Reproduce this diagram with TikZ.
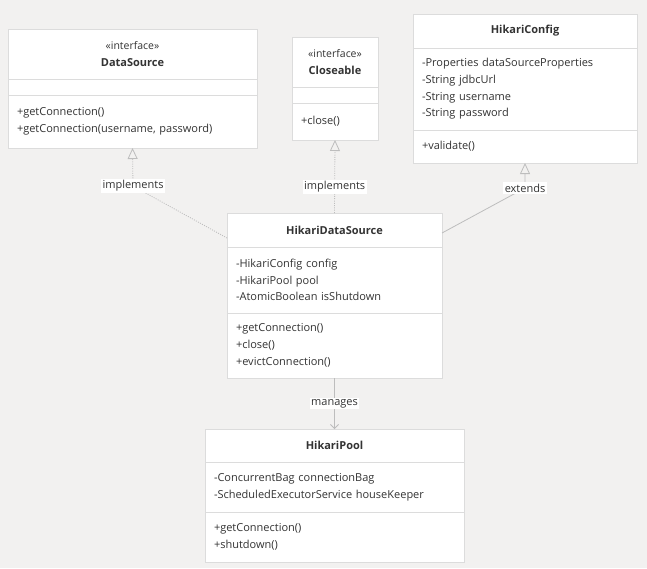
\documentclass[tikz,border=0pt]{standalone}
\usepackage{fontspec}
\setmainfont{Open Sans}
\usepackage{xcolor}
\usepackage{tikz}
\usetikzlibrary{positioning,arrows.meta}
\definecolor{CanvasBg}{HTML}{F2F1F0}
\definecolor{BoxLine}{HTML}{DCDCDC}
\definecolor{LinkGray}{HTML}{BDBDBD}
\definecolor{TextDark}{HTML}{333333}
\tikzset{
  umlpart/.style={draw=BoxLine, fill=white, line width=0.9pt, outer sep=0pt,
    inner xsep=9pt, inner ysep=0pt, align=left, text=TextDark,
    font=\fontsize{11}{16.7}\selectfont},
  umlhead/.style={umlpart, align=center},
  connlabel/.style={fill=white, inner sep=1.5pt, text=TextDark,
    font=\fontsize{11}{13}\selectfont},
  realize/.style={draw=LinkGray, line width=0.8pt, dash pattern=on 1pt off 1.3pt,
    -{Triangle[open, length=11pt, width=10pt]}},
  inherit/.style={draw=LinkGray, line width=0.8pt,
    -{Triangle[open, length=11pt, width=10pt]}},
  assoc/.style={draw=LinkGray, line width=0.8pt,
    -{Straight Barb[length=4pt, width=8pt]}}
}
\newcommand{\stereo}[1]{{\fontsize{10.5}{16}\selectfont«#1»}}
\begin{document}
\begin{tikzpicture}[x=1pt, y=-1pt]
  \fill[CanvasBg] (0,0) rectangle (647,568);
  \useasboundingbox (0,0) rectangle (647,568);

  \node[umlhead, text width=231pt, minimum height=50pt, anchor=north west] (dshead) at (8,29)
    {\stereo{interface}\\\textbf{DataSource}};
  \node[umlpart, text width=231pt, minimum height=16pt, below=0pt of dshead] (dsattr) {};
  \node[umlpart, text width=231pt, minimum height=53pt, below=0pt of dsattr] (dsmeth)
    {+getConnection()\\+getConnection(username, password)};

  \node[umlhead, text width=68pt, minimum height=50pt, anchor=north west] (clhead) at (292,37)
    {\stereo{interface}\\\textbf{Closeable}};
  \node[umlpart, text width=68pt, minimum height=16pt, below=0pt of clhead] (clattr) {};
  \node[umlpart, text width=68pt, minimum height=37pt, below=0pt of clattr] (clmeth) {+close()};

  \node[umlhead, text width=206pt, minimum height=34pt, anchor=north west] (hchead) at (413,14)
    {\textbf{HikariConfig}};
  \node[umlpart, text width=206pt, minimum height=82pt, below=0pt of hchead] (hcattr)
    {-Properties dataSourceProperties\\-String jdbcUrl\\-String username\\-String password};
  \node[umlpart, text width=206pt, minimum height=33pt, below=0pt of hcattr] (hcmeth) {+validate()};

  \node[umlhead, text width=197pt, minimum height=34pt, anchor=north west] (hdshead) at (227,213)
    {\textbf{HikariDataSource}};
  \node[umlpart, text width=197pt, minimum height=66pt, below=0pt of hdshead] (hdsattr)
    {-HikariConfig config\\-HikariPool pool\\-AtomicBoolean isShutdown};
  \node[umlpart, text width=197pt, minimum height=65pt, below=0pt of hdsattr] (hdsmeth)
    {+getConnection()\\+close()\\+evictConnection()};

  \node[umlhead, text width=241pt, minimum height=33pt, anchor=north west] (hphead) at (205,429)
    {\textbf{HikariPool}};
  \node[umlpart, text width=241pt, minimum height=50pt, below=0pt of hphead] (hpattr)
    {-ConcurrentBag connectionBag\\-ScheduledExecutorService houseKeeper};
  \node[umlpart, text width=241pt, minimum height=50pt, below=0pt of hpattr] (hpmeth)
    {+getConnection()\\+shutdown()};

  \coordinate (dsbend) at (133,186);
  \coordinate (hcbend) at (525,188);

  \draw[realize] ([yshift=-8pt]hdshead.west) -- (dsbend) node[connlabel] {implements} -- (dsmeth.south);
  \draw[realize] (hdshead.north) -- node[connlabel, pos=0.36] {implements} (clmeth.south);
  \draw[inherit] ([yshift=-3pt]hdshead.east) -- (hcbend) node[connlabel] {extends} -- (hcmeth.south);
  \draw[assoc] (hdsmeth.south) -- node[connlabel] {manages} (hphead.north);
\end{tikzpicture}
\end{document}
